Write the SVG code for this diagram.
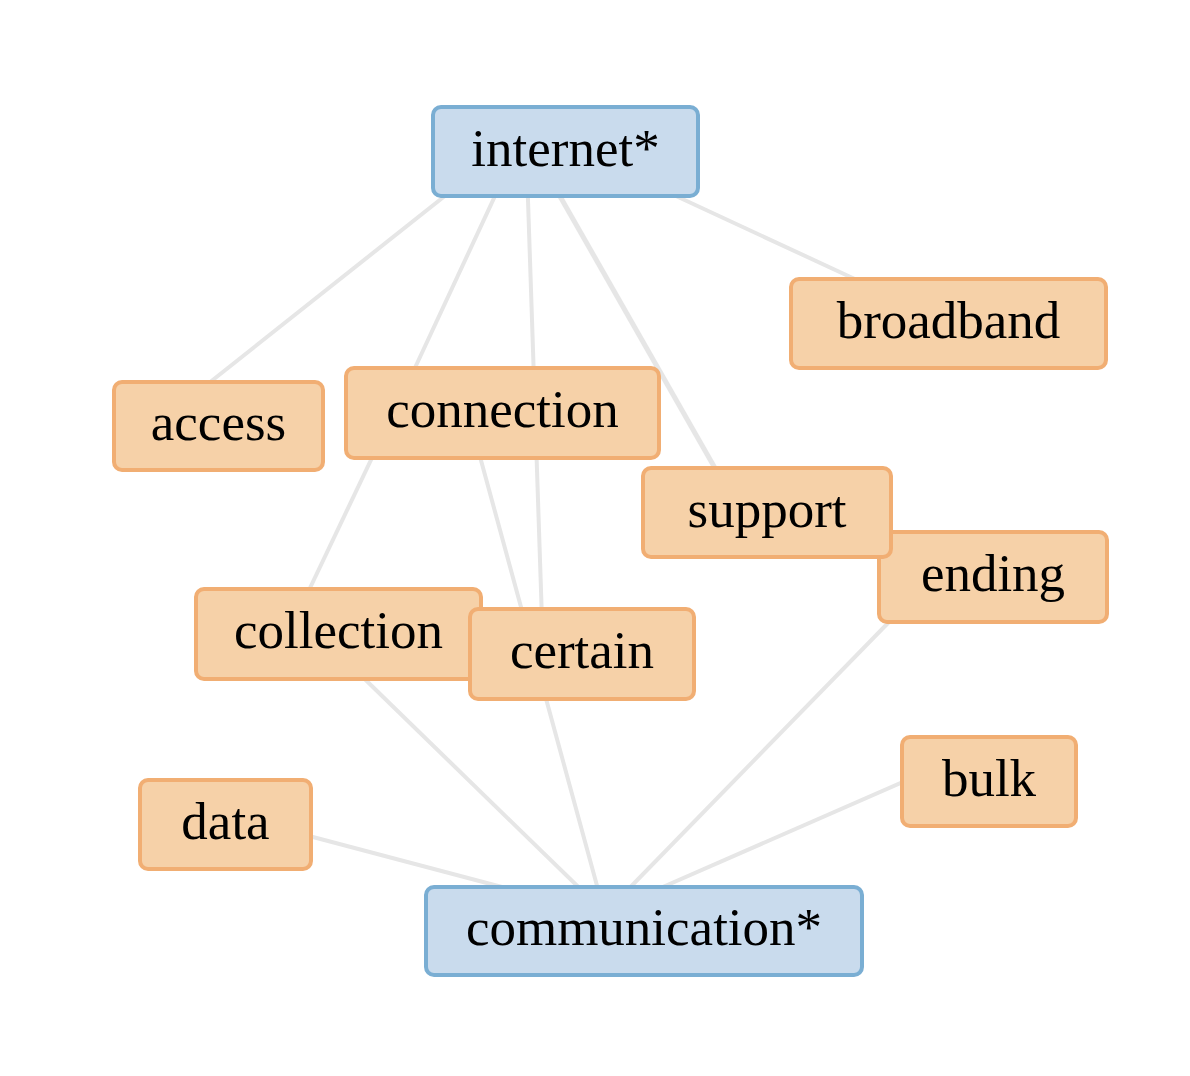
<svg xmlns="http://www.w3.org/2000/svg" width="1190" height="1076" viewBox="0 0 1190 1076">
<style>
.edge{stroke:#e6e6e6;stroke-width:4;stroke-linecap:butt;fill:none}
.core rect{fill:#c9dbed;stroke:#7aaed3;stroke-width:4}
.term rect{fill:#f6d1a8;stroke:#f1ae73;stroke-width:4}
text{font-family:"Liberation Serif","Times New Roman",serif;font-size:53px;fill:#000;text-anchor:middle}
</style>
<rect width="1190" height="1076" fill="#ffffff"/>
<g id="edges">
<line class="edge" x1="470" y1="176" x2="185" y2="402"/>
<line class="edge" x1="515" y1="153" x2="400" y2="400"/>
<line class="edge" x1="527" y1="170" x2="543" y2="650"/>
<line class="edge" x1="545" y1="170" x2="740" y2="512" style="stroke-width:5"/>
<line class="edge" x1="620" y1="170" x2="900" y2="300"/>
<line class="edge" x1="390" y1="420" x2="290" y2="630"/>
<line class="edge" x1="470" y1="420" x2="605" y2="915"/>
<line class="edge" x1="340" y1="655" x2="600" y2="908"/>
<line class="edge" x1="930" y1="580" x2="610" y2="908"/>
<line class="edge" x1="960" y1="757" x2="640" y2="897"/>
<line class="edge" x1="260" y1="823" x2="540" y2="897"/>
</g>
<g id="internet" class="core"><rect x="433" y="107" width="265" height="89" rx="8"/><text x="565.5" y="166">internet*</text></g>
<g id="broadband" class="term"><rect x="791" y="279" width="315" height="89" rx="8"/><text x="948.5" y="337.5">broadband</text></g>
<g id="access" class="term"><rect x="114" y="382" width="209" height="88" rx="8"/><text x="218.5" y="440">access</text></g>
<g id="connection" class="term"><rect x="346" y="368" width="313" height="90" rx="8"/><text x="502.5" y="427">connection</text></g>
<g id="ending" class="term"><rect x="879" y="532" width="228" height="90" rx="8"/><text x="993" y="591">ending</text></g>
<g id="support" class="term"><rect x="643" y="468" width="248" height="89" rx="8"/><text x="767" y="526.5">support</text></g>
<g id="collection" class="term"><rect x="196" y="589" width="285" height="90" rx="8"/><text x="338.5" y="648">collection</text></g>
<g id="certain" class="term"><rect x="470" y="609" width="224" height="90" rx="8"/><text x="582" y="668">certain</text></g>
<g id="bulk" class="term"><rect x="902" y="737" width="174" height="89" rx="8"/><text x="989" y="795.5">bulk</text></g>
<g id="data" class="term"><rect x="140" y="780" width="171" height="89" rx="8"/><text x="225.5" y="838.5">data</text></g>
<g id="communication" class="core"><rect x="426" y="887" width="436" height="88" rx="8"/><text x="644" y="945">communication*</text></g>
</svg>
